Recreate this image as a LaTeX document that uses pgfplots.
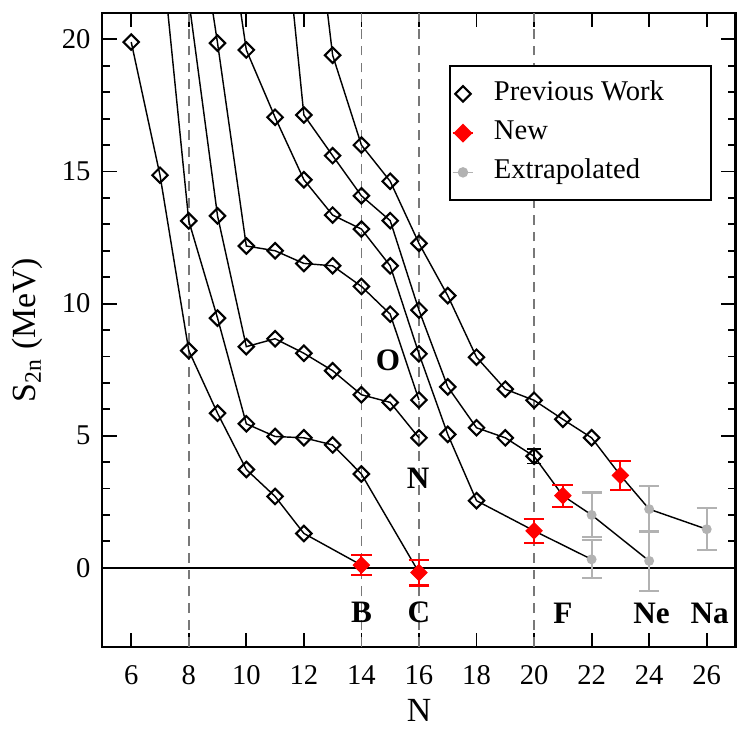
\documentclass[border=0pt]{standalone}
\usepackage{fontspec}
\setmainfont{Liberation Serif}
\usepackage{pgfplots}
\usepackage{pgfplotstable}
\pgfplotsset{compat=1.18}
\definecolor{extgray}{RGB}{178,178,178}
\definecolor{dashgray}{RGB}{120,120,120}

% isotopic chains (lines)
\pgfplotstableread{
N S
6 19.9
7 14.86
8 8.22
9 5.85
10 3.72
11 2.7
12 1.3
14 0.1
}\chainB
\pgfplotstableread{
N S
7 24.0
8 13.13
9 9.45
10 5.45
11 4.97
12 4.92
13 4.65
14 3.55
16 -0.18
}\chainC
\pgfplotstableread{
N S
8 21.5
9 13.32
10 8.37
11 8.67
12 8.12
13 7.46
14 6.55
15 6.26
16 4.92
}\chainN
\pgfplotstableread{
N S
8 27.0
9 19.86
10 12.18
11 12.0
12 11.52
13 11.43
14 10.65
15 9.6
16 6.35
}\chainO
\pgfplotstableread{
N S
9 27.0
10 19.6
11 17.05
12 14.69
13 13.35
14 12.82
15 11.43
16 8.1
17 5.05
18 2.54
20 1.4
22 0.32
}\chainF
\pgfplotstableread{
N S
11 28.0
12 17.14
13 15.6
14 14.08
15 13.14
16 9.75
17 6.85
18 5.3
19 4.92
20 4.22
21 2.73
22 2.0
24 0.26
}\chainNe
\pgfplotstableread{
N S
12 28.5
13 19.4
14 16.0
15 14.63
16 12.28
17 10.3
18 7.97
19 6.76
20 6.34
21 5.62
22 4.92
23 3.5
24 2.22
26 1.46
}\chainNa

% previous work markers
\pgfplotstableread{
N S
6 19.9
7 14.86
8 8.22
9 5.85
10 3.72
11 2.7
12 1.3
8 13.13
9 9.45
10 5.45
11 4.97
12 4.92
13 4.65
14 3.55
9 13.32
10 8.37
11 8.67
12 8.12
13 7.46
14 6.55
15 6.26
16 4.92
9 19.86
10 12.18
11 12.0
12 11.52
13 11.43
14 10.65
15 9.6
16 6.35
10 19.6
11 17.05
12 14.69
13 13.35
14 12.82
15 11.43
16 8.1
17 5.05
18 2.54
12 17.14
13 15.6
14 14.08
15 13.14
16 9.75
17 6.85
18 5.3
19 4.92
13 19.4
14 16.0
15 14.63
16 12.28
17 10.3
18 7.97
19 6.76
20 6.34
21 5.62
22 4.92
}\prevdata
\pgfplotstableread{
N S E
20 4.22 0.28
}\preverr
\pgfplotstableread{
N S E
14 0.1 0.37
16 -0.18 0.49
20 1.4 0.45
21 2.73 0.42
23 3.5 0.54
}\newdata
\pgfplotstableread{
N S E
22 0.32 0.72
22 2.0 0.85
24 0.26 1.13
24 2.22 0.86
26 1.46 0.8
}\extdata

\begin{document}
\begin{tikzpicture}
\useasboundingbox (-39.4pt,-31.15pt) rectangle (247.5pt,248.85pt);
\begin{axis}[
  at={(0pt,0pt)}, anchor=south west,
  scale only axis, width=243.46pt, height=243.85pt,
  xmin=5, xmax=27, ymin=-3, ymax=21,
  xtick={6,8,...,26}, ytick={0,5,...,20},
  minor y tick num=4,
  tick align=inside,
  major tick length=5.5pt, minor tick length=2.8pt,
  axis line style={line width=0.8pt},
  tick style={black, line width=0.7pt},
  tick label style={font=\fontsize{11}{13}\selectfont},
  /pgf/number format/assume math mode=true,
  yticklabel style={xshift=-1.1pt},
  xticklabel style={yshift=-3.5pt},
  xlabel={N},
  ylabel={S\textsubscript{2n} (MeV)},
  label style={font=\fontsize{13}{15}\selectfont},
  xlabel style={at={(axis description cs:0.5,-0.1)}, anchor=center},
  ylabel style={at={(axis description cs:-0.118,0.5)}, anchor=center},
  legend cell align=left,
  legend image code/.code={\draw[mark repeat=2,mark phase=2,#1] plot coordinates {(-4pt,0pt) (0pt,0pt) (4pt,0pt)};},
  legend style={at={(0.9626,0.918)}, anchor=north east, draw=black, line width=0.8pt,
    inner xsep=0.7pt, inner ysep=4.2pt, row sep=2.1pt,
    nodes={inner sep=1pt, text height=8pt, text depth=3pt, font=\fontsize{11}{13}\selectfont}},
]
% guide lines
\addplot[forget plot, dashgray, line width=0.6pt, dash pattern=on 3.8pt off 2.7pt] coordinates {(8,-3) (8,21)};
\addplot[forget plot, dashgray, line width=0.6pt, dash pattern=on 3.8pt off 2.7pt] coordinates {(14,-3) (14,21)};
\addplot[forget plot, dashgray, line width=0.6pt, dash pattern=on 3.8pt off 2.7pt] coordinates {(16,-3) (16,21)};
\addplot[forget plot, dashgray, line width=0.6pt, dash pattern=on 3.8pt off 2.7pt] coordinates {(20,-3) (20,21)};
\addplot[forget plot, black, line width=0.8pt] coordinates {(5,0) (27,0)};
% chains
\addplot[forget plot, black, line width=0.55pt, no marks] table[x=N,y=S] {\chainB};
\addplot[forget plot, black, line width=0.55pt, no marks] table[x=N,y=S] {\chainC};
\addplot[forget plot, black, line width=0.55pt, no marks] table[x=N,y=S] {\chainN};
\addplot[forget plot, black, line width=0.55pt, no marks] table[x=N,y=S] {\chainO};
\addplot[forget plot, black, line width=0.55pt, no marks] table[x=N,y=S] {\chainF};
\addplot[forget plot, black, line width=0.55pt, no marks] table[x=N,y=S] {\chainNe};
\addplot[forget plot, black, line width=0.55pt, no marks] table[x=N,y=S] {\chainNa};
% previous work
\addplot[forget plot, only marks, mark=square, mark size=2.1pt,
  mark options={rotate=45, black, line width=0.8pt}] table[x=N,y=S] {\prevdata};
\addplot[forget plot, only marks, mark=square, mark size=2.1pt,
  mark options={rotate=45, black, line width=0.8pt},
  error bars/.cd, y dir=both, y explicit,
  error bar style={black, line width=0.6pt},
  error mark options={rotate=90, mark size=2.8pt, black, line width=0.6pt}]
  table[x=N,y=S,y error=E] {\preverr};
% extrapolated
\addplot[forget plot, only marks, extgray, mark=*, mark size=1.7pt,
  mark options={extgray, fill=extgray},
  error bars/.cd, y dir=both, y explicit,
  error bar style={extgray, line width=0.8pt},
  error mark options={rotate=90, mark size=3.85pt, extgray, line width=0.8pt}]
  table[x=N,y=S,y error=E] {\extdata};
% new
\addplot[forget plot, only marks, red, mark=square*, mark size=2.2pt,
  mark options={rotate=45, red, fill=red},
  error bars/.cd, y dir=both, y explicit,
  error bar style={red, line width=0.8pt},
  error mark options={rotate=90, mark size=4pt, red, line width=0.8pt}]
  table[x=N,y=S,y error=E] {\newdata};
% element labels
\node[font=\bfseries\fontsize{12}{14}\selectfont] at (axis cs:14,-1.67) {B};
\node[font=\bfseries\fontsize{12}{14}\selectfont] at (axis cs:16,-1.67) {C};
\node[font=\bfseries\fontsize{12}{14}\selectfont] at (axis cs:21,-1.72) {F};
\node[font=\bfseries\fontsize{12}{14}\selectfont] at (axis cs:24.08,-1.72) {Ne};
\node[font=\bfseries\fontsize{12}{14}\selectfont] at (axis cs:26.1,-1.72) {Na};
\node[font=\bfseries\fontsize{12}{14}\selectfont] at (axis cs:14.92,7.84) {O};
\node[font=\bfseries\fontsize{12}{14}\selectfont] at (axis cs:15.97,3.4) {N};
% legend
\addlegendimage{only marks, mark=square, mark size=2.1pt, mark options={rotate=45, black, line width=0.8pt}}
\addlegendentry{\makebox[88.2pt][l]{\hspace{6.5pt}Previous Work}}
\addlegendimage{red, line width=0.8pt, mark=square*, mark size=2.2pt, mark options={rotate=45, solid, red, fill=red}}
\addlegendentry{\makebox[88.2pt][l]{\hspace{6.5pt}New}}
\addlegendimage{extgray, line width=0.6pt, mark=*, mark size=1.7pt, mark options={extgray, fill=extgray}}
\addlegendentry{\makebox[88.2pt][l]{\hspace{6.5pt}Extrapolated}}
\end{axis}
\end{tikzpicture}
\end{document}
